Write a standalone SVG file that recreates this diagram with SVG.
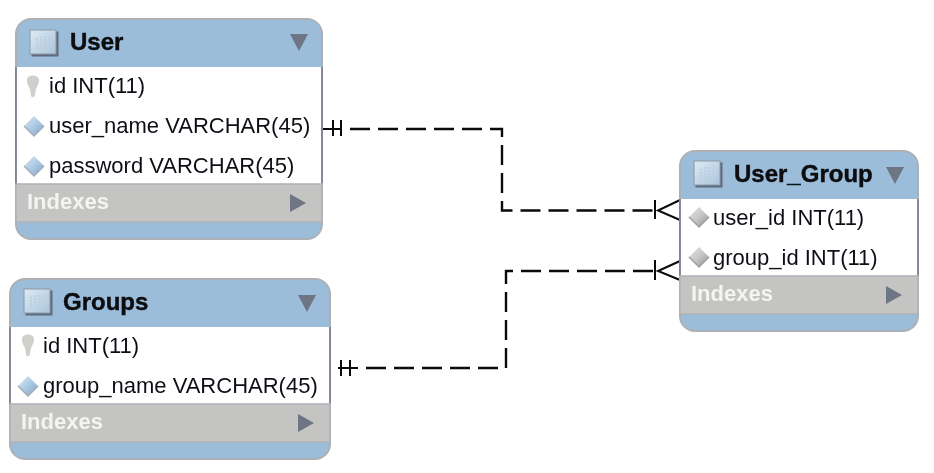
<svg xmlns="http://www.w3.org/2000/svg" width="934" height="473" viewBox="0 0 934 473">
<style>
.box{fill:#9bbdd9;stroke:#adb1b6;stroke-width:2}
.body{fill:#fff}
.side{stroke:#7c8190;stroke-width:1.800;fill:none}
.idx{fill:#c4c4c2;stroke:#b0b3b8;stroke-width:1.600}
.tri{fill:#6e7484}
.node{filter:url(#soft)}
.t{font-family:"Liberation Sans",Arial,sans-serif;font-weight:700;font-size:24px;fill:#0a0a10;stroke:#0a0a10;stroke-width:.4px}
.f{font-family:"Liberation Sans",Arial,sans-serif;font-size:22px;fill:#101018}
.i{font-family:"Liberation Sans",Arial,sans-serif;font-weight:700;font-size:22px;fill:#f4f4f2}
.dash{fill:none;stroke:#0a0a0a;stroke-width:2.400;stroke-dasharray:20 8}
.solid{fill:none;stroke:#0a0a0a;stroke-width:2}
</style>
<defs>
<filter id="soft" x="-2%" y="-2%" width="104%" height="104%"><feGaussianBlur stdDeviation=".35"/></filter>
<linearGradient id="g" x1="0" y1="0" x2="1" y2="1"><stop offset="0" stop-color="#dfe9f2"/><stop offset="1" stop-color="#a9c4dc"/></linearGradient>
<linearGradient id="gd" x1="0" y1="0" x2="1" y2="1"><stop offset="0" stop-color="#dce8f3"/><stop offset=".55" stop-color="#a6c6e2"/><stop offset="1" stop-color="#7f9fc0"/></linearGradient>
<linearGradient id="gg" x1="0" y1="0" x2="1" y2="1"><stop offset="0" stop-color="#e6e6e6"/><stop offset=".55" stop-color="#c2c2c2"/><stop offset="1" stop-color="#8e8e92"/></linearGradient>
<g id="tbl"><rect x="1.500" y="1.500" width="27" height="25" fill="#5f6b7a"/><rect x="0" y="0" width="26" height="24" fill="url(#g)" stroke="#8a9aaa" stroke-width="1"/><path d="M7 8v11M11 6v13M15 6v13M19 8v11" stroke="#bcd0e2" stroke-width="2" stroke-dasharray="2 1"/></g>
<g id="key"><path d="M-6-6C-6-12 6-12 6-6C6-2 4 0 3 3L2 9C1 12-2 12-2 9L-3 3C-5 0-6-3-6-6Z" fill="#cfcfcc"/></g>
<g id="dia"><path d="M0-10L10 0L0 10L-10 0Z" fill="url(#gd)"/><path d="M10 0L0 10L-10 0" fill="none" stroke="#a4adb8" stroke-width="1.500"/></g>
<g id="dig"><path d="M0-10L10 0L0 10L-10 0Z" fill="url(#gg)"/><path d="M10 0L0 10L-10 0" fill="none" stroke="#a0a0a4" stroke-width="1.500"/></g>
<path id="dn" class="tri" d="M0 0H18L9 17Z"/>
<path id="rt" class="tri" d="M0 0L16 9L0 18Z"/>
</defs>
<g id="connectors">
<path class="dash" d="M350 129H502V210.500H655"/>
<path class="solid" d="M323 129H341M333 120V136M341 120V136M655 200V219M680 200L658 210.500L680 220"/>
<path class="dash" d="M366 368H506V271H655"/>
<path class="solid" d="M338 368H358M341 360V376M350 360V376M655 260V280M680 261L658 271L680 280"/>
</g>
<g id="user" class="node">
<rect class="box" x="16" y="19" width="306" height="220" rx="15"/>
<rect class="body" x="16" y="67" width="306" height="117"/>
<path class="side" d="M16 67V184M322 67V184"/>
<rect class="idx" x="16" y="184" width="306" height="38"/>
<use href="#tbl" x="30" y="30"/>
<text class="t" x="70" y="50">User</text>
<use href="#dn" x="290" y="34"/>
<use href="#key" x="33" y="86"/>
<text class="f" x="49" y="93">id INT(11)</text>
<use href="#dia" x="34" y="126"/>
<text class="f" x="49" y="133">user_name VARCHAR(45)</text>
<use href="#dia" x="34" y="166"/>
<text class="f" x="49" y="173">password VARCHAR(45)</text>
<text class="i" x="27" y="209">Indexes</text>
<use href="#rt" x="290" y="194"/>
</g>
<g id="groups" class="node">
<rect class="box" x="10" y="279" width="320" height="180" rx="15"/>
<rect class="body" x="10" y="327" width="320" height="77"/>
<path class="side" d="M10 327V404M330 327V404"/>
<rect class="idx" x="10" y="404" width="320" height="38"/>
<use href="#tbl" x="24" y="289"/>
<text class="t" x="63" y="310">Groups</text>
<use href="#dn" x="298" y="295"/>
<use href="#key" x="28" y="345"/>
<text class="f" x="43" y="353">id INT(11)</text>
<use href="#dia" x="28" y="386"/>
<text class="f" x="43" y="393">group_name VARCHAR(45)</text>
<text class="i" x="21" y="429">Indexes</text>
<use href="#rt" x="298" y="414"/>
</g>
<g id="user_group" class="node">
<rect class="box" x="680" y="151" width="238" height="180" rx="15"/>
<rect class="body" x="680" y="199" width="238" height="77"/>
<path class="side" d="M680 199V276M918 199V276"/>
<rect class="idx" x="680" y="276" width="238" height="38"/>
<use href="#tbl" x="694" y="161"/>
<text class="t" x="734" y="182">User_Group</text>
<use href="#dn" x="886" y="167"/>
<use href="#dig" x="699" y="217"/>
<text class="f" x="713" y="225">user_id INT(11)</text>
<use href="#dig" x="699" y="257"/>
<text class="f" x="713" y="265">group_id INT(11)</text>
<text class="i" x="691" y="301">Indexes</text>
<use href="#rt" x="886" y="286"/>
</g>
</svg>
